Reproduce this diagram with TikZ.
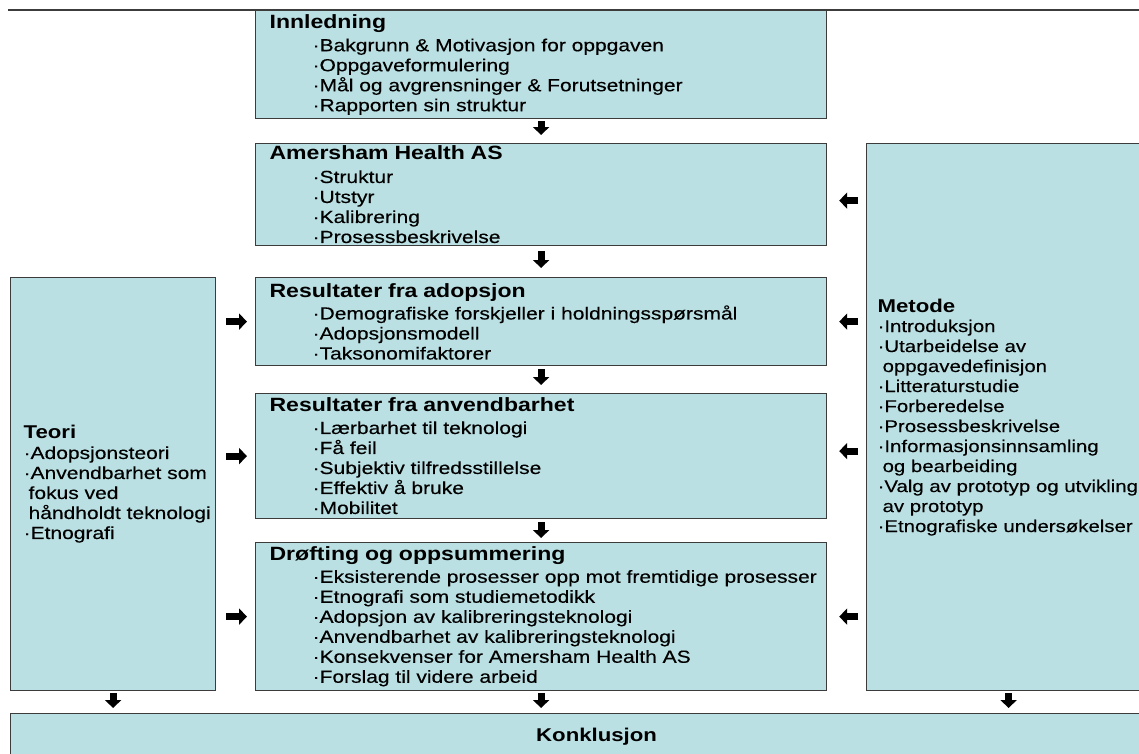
\documentclass[tikz,border=0pt]{standalone}
\usepackage{fontspec}
\setmainfont{Liberation Sans}[FakeStretch=1.2, UprightFeatures={FakeBold=0.3}]
\usetikzlibrary{arrows.meta,positioning}

\definecolor{boxfill}{RGB}{187,224,227}
\definecolor{boxline}{RGB}{60,60,60}
\newcommand{\boxtitle}[1]{{\bfseries\fontsize{19.2}{20}\selectfont #1}}
\newcommand{\sidetitle}[1]{{\bfseries\fontsize{18.5}{20}\selectfont #1}}
\newcommand{\itm}[1]{\mbox{\hspace*{43pt}\textperiodcentered#1}}
\newcommand{\sitm}[1]{\mbox{\textperiodcentered#1}}
\newcommand{\scont}[1]{\mbox{\hspace*{5pt}#1}}

\begin{document}
\begin{tikzpicture}[
    x=1pt, y=-1pt,
    box/.style={rectangle, draw=boxline, line width=1.2pt, fill=boxfill, anchor=north west,
        inner xsep=14pt, inner ysep=0pt, align=left, font=\fontsize{17.5}{20}\selectfont},
    mainbox/.style={box, text width=543pt},
    blk/.style={line width=7pt, -{Triangle[width=16pt,length=8pt]}},
    trim/.style 2 args={shorten <=#1, shorten >=#2}
]
\clip (0,0) rectangle (1139,753);

% Rule under the title
\draw[line width=1.5pt, boxline] (8,10) -- (1139,10);

% Main column
\node[mainbox, minimum height=108pt] (innledning) at (255,10) {\boxtitle{Innledning}\\[3pt]
    \itm{Bakgrunn \& Motivasjon for oppgaven}\\
    \itm{Oppgaveformulering}\\
    \itm{Mål og avgrensninger \& Forutsetninger}\\
    \itm{Rapporten sin struktur}};
\node[mainbox, minimum height=102pt] (amersham) at (255,143) {\boxtitle{Amersham Health AS}\\[3pt]
    \itm{Struktur}\\
    \itm{Utstyr}\\
    \itm{Kalibrering}\\
    \itm{Prosessbeskrivelse}};
\node[mainbox, minimum height=88pt] (adopsjon) at (255,277) {\boxtitle{Resultater fra adopsjon}\\[2pt]
    \itm{Demografiske forskjeller i holdningsspørsmål}\\
    \itm{Adopsjonsmodell}\\
    \itm{Taksonomifaktorer}};
\node[mainbox, minimum height=125pt] (anvendbarhet) at (255,393) {\boxtitle{Resultater fra anvendbarhet}\\[2pt]
    \itm{Lærbarhet til teknologi}\\
    \itm{Få feil}\\
    \itm{Subjektiv tilfredsstillelse}\\
    \itm{Effektiv å bruke}\\
    \itm{Mobilitet}};
\node[mainbox, minimum height=148pt] (drofting) at (255,542) {\boxtitle{Drøfting og oppsummering}\\[2pt]
    \itm{Eksisterende prosesser opp mot fremtidige prosesser}\\
    \itm{Etnografi som studiemetodikk}\\
    \itm{Adopsjon av kalibreringsteknologi}\\
    \itm{Anvendbarhet av kalibreringsteknologi}\\
    \itm{Konsekvenser for Amersham Health AS}\\
    \itm{Forslag til videre arbeid}};

% Side columns
\node[box, inner xsep=13pt, text width=179pt, minimum height=413pt] (teori) at (10,277) {\sidetitle{Teori}\\
    \sitm{Adopsjonsteori}\\
    \sitm{Anvendbarhet som}\\
    \scont{fokus ved}\\
    \scont{håndholdt teknologi}\\
    \sitm{Etnografi}};
\node[box, inner xsep=11pt, text width=262pt, minimum height=547pt,
      font=\fontsize{17}{20}\selectfont] (metode) at (866,143) {\sidetitle{Metode}\\
    \sitm{Introduksjon}\\
    \sitm{Utarbeidelse av}\\
    \scont{oppgavedefinisjon}\\
    \sitm{Litteraturstudie}\\
    \sitm{Forberedelse}\\
    \sitm{Prosessbeskrivelse}\\
    \sitm{Informasjonsinnsamling}\\
    \scont{og bearbeiding}\\
    \sitm{Valg av prototyp og utvikling}\\
    \scont{av prototyp}\\
    \sitm{Etnografiske undersøkelser}};

% Conclusion
\node[box, align=center, text width=1144pt, minimum height=46pt] (konklusjon) at (10,713) {\sidetitle{Konklusjon}};

% Arrows down the main column
\draw[blk, trim={2pt}{8pt}] (innledning.south) -- (amersham.north);
\draw[blk, trim={5pt}{9pt}] (amersham.south) -- (adopsjon.north);
\draw[blk, trim={3pt}{8pt}] (adopsjon.south) -- (anvendbarhet.north);
\draw[blk, trim={3pt}{4pt}] (anvendbarhet.south) -- (drofting.north);
\draw[blk, trim={2pt}{5pt}] (drofting.south) -- (drofting.south |- konklusjon.north);

% Arrows from the sides
\draw[blk, trim={10pt}{8pt}] (teori.east |- adopsjon.west) -- (adopsjon.west);
\draw[blk, trim={10pt}{8pt}] (teori.east |- anvendbarhet.west) -- (anvendbarhet.west);
\draw[blk, trim={10pt}{8pt}] (teori.east |- drofting.west) -- (drofting.west);
\draw[blk, trim={8pt}{12pt}] ([yshift=-6pt]metode.west |- amersham.east) -- ([yshift=-6pt]amersham.east);
\draw[blk, trim={8pt}{12pt}] (metode.west |- adopsjon.east) -- (adopsjon.east);
\draw[blk, trim={8pt}{12pt}] ([yshift=5pt]metode.west |- anvendbarhet.east) -- ([yshift=5pt]anvendbarhet.east);
\draw[blk, trim={8pt}{12pt}] (metode.west |- drofting.east) -- (drofting.east);
\draw[blk, trim={2pt}{5pt}] (teori.south) -- (teori.south |- konklusjon.north);
\draw[blk, trim={2pt}{5pt}] (metode.south) -- (metode.south |- konklusjon.north);

\end{tikzpicture}
\end{document}
